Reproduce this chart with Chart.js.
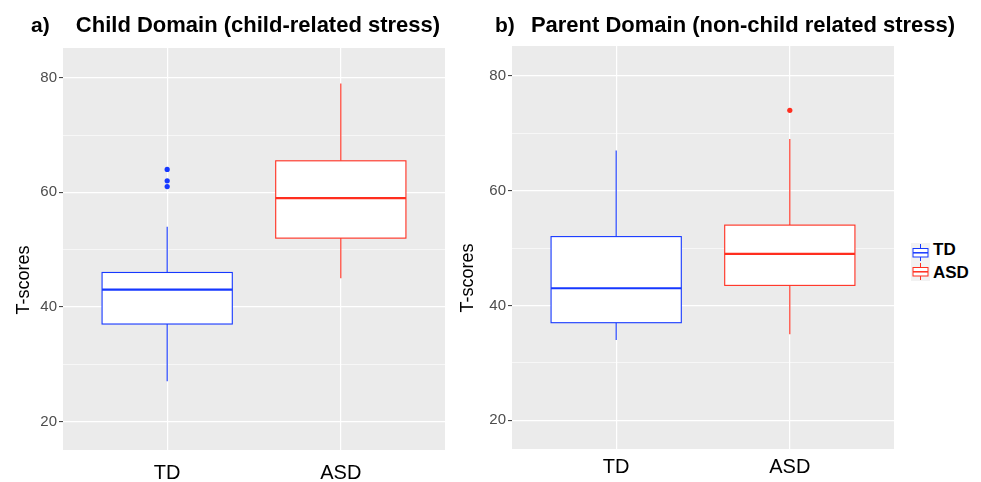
<!DOCTYPE html>
<html lang="en">
<head>
    <meta charset="UTF-8">
    <title>Parenting stress T-scores - TD vs ASD</title>
    <script src="https://cdn.jsdelivr.net/npm/chart.js"></script>

    <style>
        body {
            margin: 0;
            background: #fff;
            font-family: "Liberation Sans", Arial, sans-serif;
        }

        #wrap {
            position: relative;
            width: 981px;
            height: 482px;
            overflow: hidden;
        }

        canvas {
            position: absolute;
            top: 0;
        }

        .head {
            position: absolute;
            top: 14px;
            font-weight: bold;
            font-size: 22px;
            line-height: 22px;
            color: #000;
            white-space: nowrap;
        }

        .ytitle {
            position: absolute;
            width: 120px;
            text-align: center;
            font-size: 18px;
            line-height: 18px;
            color: #000;
            transform: rotate(-90deg);
        }

        .legend-text {
            position: absolute;
            font-weight: bold;
            font-size: 17px;
            line-height: 17px;
            color: #000;
        }
    </style>
</head>
<body>

<div id="wrap">
    <canvas id="childChart" width="449" height="482" style="left:0px"></canvas>
    <canvas id="parentChart" width="448" height="482" style="left:450px"></canvas>

    <div class="head" style="left:31px; font-size:21px">a)</div>
    <div class="head" style="left:58px; width:400px; text-align:center">Child Domain (child-related stress)</div>
    <div class="head" style="left:495px; font-size:21px">b)</div>
    <div class="head" style="left:523px; width:440px; text-align:center">Parent Domain (non-child related stress)</div>

    <div class="ytitle" style="left:-37px; top:271px">T-scores</div>
    <div class="ytitle" style="left:407px; top:269px">T-scores</div>

    <svg style="position:absolute; left:911px; top:243px" width="19" height="38">
        <rect x="0" y="0" width="19" height="38" fill="#f2f2f2"/>
        <line x1="9.5" y1="1" x2="9.5" y2="18" stroke="#1638ff" stroke-width="1"/>
        <rect x="2" y="5.5" width="15" height="8.5" fill="#fff" stroke="#1638ff" stroke-width="1"/>
        <line x1="2" y1="9.8" x2="17" y2="9.8" stroke="#1638ff" stroke-width="1.5"/>
        <line x1="9.5" y1="20" x2="9.5" y2="37" stroke="#ff2e1f" stroke-width="1"/>
        <rect x="2" y="24.5" width="15" height="8.5" fill="#fff" stroke="#ff2e1f" stroke-width="1"/>
        <line x1="2" y1="28.8" x2="17" y2="28.8" stroke="#ff2e1f" stroke-width="1.5"/>
    </svg>
    <div class="legend-text" style="left:933px; top:241px">TD</div>
    <div class="legend-text" style="left:933px; top:264px">ASD</div>
</div>

<script>
    // groups on the x axis
    const categories = ['TD', 'ASD'];
    const groupColors = ['#1638ff', '#ff2e1f'];

    // y ticks (every 10, labels only on the major ones)
    const yTicks = [20, 30, 40, 50, 60, 70, 80];
    const yLabels = [20, 40, 60, 80];

    // a) Child Domain
    const childLow = [27, 45];
    const childQ1 = [37, 52];
    const childMedian = [43, 59];
    const childQ3 = [46, 65.5];
    const childHigh = [54, 79];
    const childOutliersTD = [64, 62, 61];
    const childOutliersASD = [];

    // b) Parent Domain
    const parentLow = [34, 35];
    const parentQ1 = [37, 43.5];
    const parentMedian = [43, 49];
    const parentQ3 = [52, 54];
    const parentHigh = [67, 69];
    const parentOutliersTD = [];
    const parentOutliersASD = [74];

    function makeBoxPlugin(stats) {
        return {
            id: 'boxes',
            beforeDraw(chart) {
                const {ctx, chartArea: a} = chart;
                ctx.save();
                ctx.fillStyle = '#ebebeb';
                ctx.fillRect(a.left, a.top, a.right - a.left, a.bottom - a.top);
                ctx.restore();
            },
            beforeDatasetsDraw(chart) {
                const {ctx, scales: {x, y}} = chart;
                ctx.save();
                categories.forEach((c, i) => {
                    const cx = x.getPixelForValue(i + 1);
                    const hw = x.getPixelForValue(i + 1 + 0.375) - cx;
                    const top = y.getPixelForValue(stats.q3[i]);
                    const bot = y.getPixelForValue(stats.q1[i]);
                    ctx.strokeStyle = groupColors[i];

                    // whiskers
                    ctx.lineWidth = 1.1;
                    ctx.beginPath();
                    ctx.moveTo(cx, y.getPixelForValue(stats.high[i]));
                    ctx.lineTo(cx, top);
                    ctx.moveTo(cx, bot);
                    ctx.lineTo(cx, y.getPixelForValue(stats.low[i]));
                    ctx.stroke();

                    // box
                    ctx.fillStyle = '#fff';
                    ctx.fillRect(cx - hw, top, hw * 2, bot - top);
                    ctx.strokeRect(cx - hw, top, hw * 2, bot - top);

                    // median
                    const m = y.getPixelForValue(stats.median[i]);
                    ctx.lineWidth = 2.2;
                    ctx.beginPath();
                    ctx.moveTo(cx - hw, m);
                    ctx.lineTo(cx + hw, m);
                    ctx.stroke();
                });
                ctx.restore();
            }
        };
    }

    function outlierSet(values, group) {
        return {
            data: values.map(v => ({x: group + 1, y: v})),
            backgroundColor: groupColors[group],
            borderWidth: 0,
            pointRadius: 2.6
        };
    }

    function makeChart(id, stats, outliersTD, outliersASD, yWidth, topPad, xHeight, xPad) {
        return new Chart(document.getElementById(id), {
            type: 'scatter',
            data: {
                datasets: [outlierSet(outliersTD, 0), outlierSet(outliersASD, 1)]
            },
            options: {
                responsive: false,
                animation: false,
                devicePixelRatio: 1,
                layout: {padding: {top: topPad, left: 0, right: 0, bottom: 0}},
                plugins: {legend: {display: false}, tooltip: {enabled: false}},
                scales: {
                    x: {
                        type: 'linear',
                        min: 0.4,
                        max: 2.6,
                        afterBuildTicks: s => { s.ticks = categories.map((c, i) => ({value: i + 1})); },
                        afterFit: s => { s.height = xHeight; },
                        border: {display: false},
                        grid: {color: '#fff', lineWidth: 1.2, tickLength: 4, tickColor: 'rgba(0,0,0,0)'},
                        ticks: {
                            callback: (v, i) => categories[i],
                            color: '#000',
                            padding: xPad,
                            font: {family: '"Liberation Sans", Arial, sans-serif', size: 20}
                        }
                    },
                    y: {
                        min: 15,
                        max: 85.2,
                        afterBuildTicks: s => { s.ticks = yTicks.map(v => ({value: v})); },
                        afterFit: s => { s.width = yWidth; },
                        border: {display: false},
                        grid: {
                            color: '#fff',
                            lineWidth: c => yLabels.includes(c.tick.value) ? 1.2 : 0.6,
                            tickLength: 4,
                            tickWidth: 1,
                            tickColor: c => yLabels.includes(c.tick.value) ? '#333' : 'rgba(0,0,0,0)'
                        },
                        ticks: {
                            callback: v => yLabels.includes(v) ? String(v) : '',
                            color: '#4d4d4d',
                            padding: 2,
                            font: {family: '"Liberation Sans", Arial, sans-serif', size: 15}
                        }
                    }
                }
            },
            plugins: [makeBoxPlugin(stats)]
        });
    }

    makeChart('childChart',
        {low: childLow, q1: childQ1, median: childMedian, q3: childQ3, high: childHigh},
        childOutliersTD, childOutliersASD, 63, 48, 32, 7);

    makeChart('parentChart',
        {low: parentLow, q1: parentQ1, median: parentMedian, q3: parentQ3, high: parentHigh},
        parentOutliersTD, parentOutliersASD, 62, 46, 33, 2);
</script>

</body>
</html>
